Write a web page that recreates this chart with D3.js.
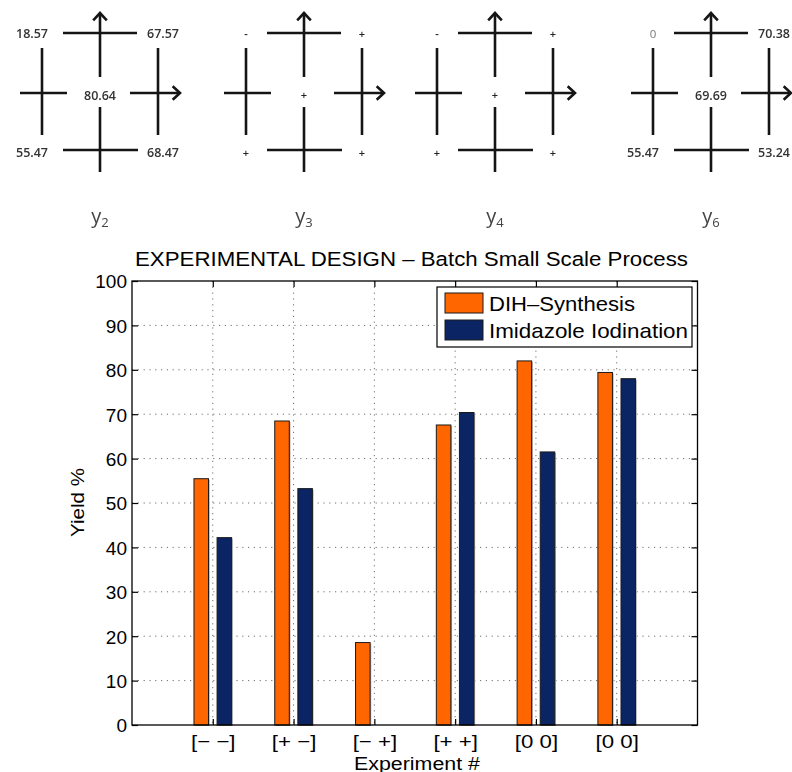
<!DOCTYPE html>
<html>
<head>
<meta charset="utf-8">
<script src="https://cdn.jsdelivr.net/npm/d3@7/dist/d3.min.js"></script>
<style>
  html, body { margin: 0; padding: 0; background: #fff; }
  svg { display: block; }
  .design-squares { filter: grayscale(1); }
</style>
</head>
<body>
<svg id="fig" width="792" height="772"></svg>
<script>
// ---- factorial design squares (corner / centre responses) ----
const panelNames = ["2", "3", "4", "6"];
const panelTopLeft = ["18.57", "-", "-", "0"];
const panelTopRight = ["67.57", "+", "+", "70.38"];
const panelCenter = ["80.64", "+", "+", "69.69"];
const panelBottomLeft = ["55.47", "+", "+", "55.47"];
const panelBottomRight = ["68.47", "+", "+", "53.24"];

// ---- bar chart data ----
const experiments = ["[\u2212 \u2212]", "[+ \u2212]", "[\u2212 +]", "[+ +]", "[0 0]", "[0 0]"];
const dihSynthesis = [55.47, 68.47, 18.57, 67.57, 82.0, 79.4];
const imidazoleIodination = [42.2, 53.24, 0, 70.38, 61.5, 78.0];
const seriesNames = ["DIH\u2013Synthesis", "Imidazole Iodination"];
const seriesColors = ["#ff6600", "#0b2463"];
const yTicks = [0, 10, 20, 30, 40, 50, 60, 70, 80, 90, 100];

const svg = d3.select("#fig");

// widen text horizontally (the figure's fonts are set a little wide)
function stretch(sel, f) {
  sel.each(function () {
    const L = this.getComputedTextLength();
    d3.select(this).attr("textLength", L * f).attr("lengthAdjust", "spacingAndGlyphs");
  });
}
function fitTo(sel, w) {
  sel.attr("textLength", w).attr("lengthAdjust", "spacingAndGlyphs");
}

// ================= design squares =================
// centre positions of the four squares are not evenly spaced
const panelCx = { "2": 100, "3": 304, "4": 495, "6": 711 };

const ink = "#151515";
const sqFont = "'Open Sans', 'DejaVu Sans', sans-serif";
const squares = svg.append("g").attr("class", "design-squares");

function arrowLine(g, x1, y1, x2, y2) {
  g.append("line").attr("x1", x1).attr("y1", y1).attr("x2", x2).attr("y2", y2)
    .attr("stroke", ink).attr("stroke-width", 2.6);
  const ang = Math.atan2(y2 - y1, x2 - x1);
  const len = 10, spread = Math.PI / 4.2;
  const pts = [
    [x2 - len * Math.cos(ang - spread), y2 - len * Math.sin(ang - spread)],
    [x2, y2],
    [x2 - len * Math.cos(ang + spread), y2 - len * Math.sin(ang + spread)]
  ];
  g.append("path").attr("d", d3.line()(pts)).attr("fill", "none")
    .attr("stroke", ink).attr("stroke-width", 2.6).attr("stroke-linejoin", "miter");
}
function seg(g, x1, y1, x2, y2) {
  g.append("line").attr("x1", x1).attr("y1", y1).attr("x2", x2).attr("y2", y2)
    .attr("stroke", ink).attr("stroke-width", 2.6);
}
function cornerLabel(g, txt, xLine, side, y) {
  const t = g.append("text").attr("y", y).text(txt).attr("font-family", sqFont);
  if (txt.length === 1) {
    t.attr("x", xLine).attr("text-anchor", "middle")
      .attr("fill", txt === "0" ? "#777" : "#222")
      .attr("font-size", txt === "0" ? 11.5 : 11).attr("font-weight", txt === "0" ? 400 : 600);
  } else {
    t.attr("x", side < 0 ? xLine + 6 : xLine - 11)
      .attr("text-anchor", side < 0 ? "end" : "start")
      .attr("fill", "#333").attr("font-size", 12.5).attr("font-weight", 600);
  }
}

panelNames.forEach((name, i) => {
  const cx = panelCx[name];
  const g = squares.append("g");
  // top edge with upward axis arrow
  seg(g, cx - 37, 33, cx + 37, 33);
  arrowLine(g, cx, 77, cx, 13);
  // left edge
  seg(g, cx - 58, 48, cx - 58, 135);
  seg(g, cx - 80, 93, cx - 33, 93);
  // right edge with rightward axis arrow
  seg(g, cx + 58, 48, cx + 58, 135);
  arrowLine(g, cx + 30, 93, cx + 80, 93);
  // bottom edge
  seg(g, cx, 107, cx, 172);
  seg(g, cx - 37, 150, cx + 38, 150);

  cornerLabel(g, panelTopLeft[i], cx - 58, -1, 38);
  cornerLabel(g, panelTopRight[i], cx + 58, 1, 38);
  cornerLabel(g, panelBottomLeft[i], cx - 58, -1, 157);
  cornerLabel(g, panelBottomRight[i], cx + 58, 1, 157);
  const c = panelCenter[i];
  g.append("text").attr("x", cx).attr("y", c.length === 1 ? 99 : 100)
    .attr("text-anchor", "middle").attr("fill", c.length === 1 ? "#222" : "#333")
    .attr("font-family", sqFont)
    .attr("font-size", c.length === 1 ? 11 : 12.5).attr("font-weight", 600).text(c);

  const lab = g.append("text").attr("x", cx).attr("y", 223).attr("text-anchor", "middle")
    .attr("fill", "#444").attr("font-family", sqFont).attr("font-size", 20);
  lab.append("tspan").text("y");
  lab.append("tspan").attr("font-size", 13).attr("dy", 4).text(name);
});

// ================= bar chart =================
const left = 132, right = 697.5, yBottom = 725, yTop = 281;
const x = d3.scaleLinear().domain([0, experiments.length + 1]).range([left, right]);
const y = d3.scaleLinear().domain([0, 100]).range([yBottom, yTop]);
const font = "'Liberation Sans', Arial, Helvetica, sans-serif";
const chart = svg.append("g").attr("class", "chart");

// dotted grid
const grid = chart.append("g").attr("stroke", "#6e6e6e").attr("stroke-width", 1)
  .attr("stroke-dasharray", "1.2,4.6");
grid.selectAll(".gy").data(yTicks.slice(1, -1)).join("line")
  .attr("x1", left).attr("x2", right)
  .attr("y1", d => y(d)).attr("y2", d => y(d));
grid.selectAll(".gx").data(experiments).join("line")
  .attr("x1", (d, i) => x(i + 1)).attr("x2", (d, i) => x(i + 1))
  .attr("y1", yTop).attr("y2", yBottom);

// grouped bars
const barW = x(0.18) - x(0);
const offsets = [-0.143, 0.143];
[dihSynthesis, imidazoleIodination].forEach((vals, s) => {
  const g = chart.append("g");
  // soft shadow on the right edge of each bar
  g.selectAll(".sh").data(vals).join("rect")
    .attr("x", (d, i) => x(i + 1 + offsets[s]) - barW / 2 + 1.2)
    .attr("y", d => y(d) + 1)
    .attr("width", barW).attr("height", d => y(0) - y(d))
    .attr("fill", "#b0b0b0");
  g.selectAll(".bar").data(vals).join("rect")
    .attr("x", (d, i) => x(i + 1 + offsets[s]) - barW / 2)
    .attr("y", d => y(d))
    .attr("width", barW).attr("height", d => y(0) - y(d))
    .attr("fill", seriesColors[s]).attr("stroke", "#1a1a1a").attr("stroke-width", 1);
});

// frame
chart.append("rect").attr("x", left).attr("y", yTop)
  .attr("width", right - left).attr("height", yBottom - yTop)
  .attr("fill", "none").attr("stroke", "#000").attr("stroke-width", 1.3);

// axes (inward ticks on all four sides)
const yAxisL = d3.axisLeft(y).tickValues(yTicks).tickSize(-6).tickPadding(5);
const gyl = chart.append("g").attr("transform", `translate(${left},0)`).call(yAxisL);
gyl.select(".domain").remove();
gyl.selectAll("text").attr("font-family", font).attr("font-size", 19).attr("fill", "#000")
  .attr("dy", "0.36em");

const yAxisR = d3.axisRight(y).tickValues(yTicks).tickSize(-6).tickFormat("");
const gyr = chart.append("g").attr("transform", `translate(${right},0)`).call(yAxisR);
gyr.select(".domain").remove();

const xAxisB = d3.axisBottom(x).tickValues(d3.range(1, experiments.length + 1))
  .tickSize(-6).tickPadding(9.5).tickFormat(d => experiments[d - 1]);
const gxb = chart.append("g").attr("transform", `translate(0,${yBottom})`).call(xAxisB);
gxb.select(".domain").remove();
gxb.selectAll("text").attr("font-family", font).attr("font-size", 19).attr("fill", "#000")
  .call(stretch, 1.17);

const xAxisT = d3.axisTop(x).tickValues(d3.range(1, experiments.length + 1))
  .tickSize(-6).tickFormat("");
const gxt = chart.append("g").attr("transform", `translate(0,${yTop})`).call(xAxisT);
gxt.select(".domain").remove();
chart.selectAll(".tick line").attr("stroke", "#000").attr("stroke-width", 1.2);

// titles
chart.append("text").attr("x", 135).attr("y", 266)
  .attr("font-family", font).attr("font-size", 20.5)
  .text("EXPERIMENTAL DESIGN \u2013 Batch Small Scale Process")
  .call(fitTo, 553);
chart.append("text").attr("x", 354).attr("y", 769.5)
  .attr("font-family", font).attr("font-size", 17.5)
  .text("Experiment #").call(fitTo, 126);
chart.append("text").attr("transform", `translate(84,537) rotate(-90)`)
  .attr("font-family", font).attr("font-size", 18.5)
  .text("Yield %").call(fitTo, 69);

// legend
const lg = chart.append("g").attr("transform", "translate(437,287)");
lg.append("rect").attr("width", 255).attr("height", 60)
  .attr("fill", "#fff").attr("stroke", "#000").attr("stroke-width", 1.2);
const legendWidths = [146, 199];
seriesNames.forEach((n, i) => {
  lg.append("rect").attr("x", 8).attr("y", 6 + i * 27).attr("width", 38).attr("height", 20)
    .attr("fill", seriesColors[i]).attr("stroke", "#1a1a1a").attr("stroke-width", 1);
  lg.append("text").attr("x", 52).attr("y", 24 + i * 27)
    .attr("font-family", font).attr("font-size", 21).text(n)
    .call(fitTo, legendWidths[i]);
});
</script>
</body>
</html>
